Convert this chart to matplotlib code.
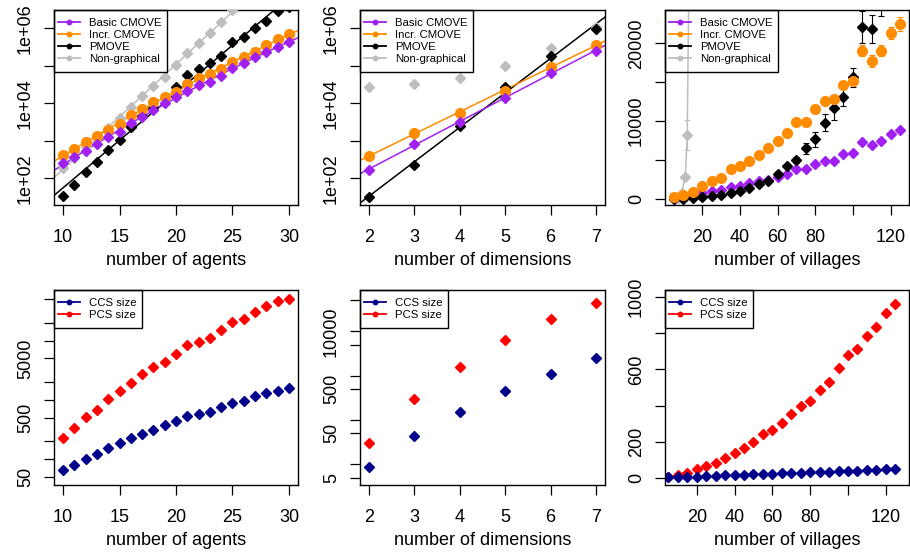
import matplotlib.pyplot as plt
import numpy as np

from matplotlib.lines import Line2D
from matplotlib.patches import Rectangle
from matplotlib.ticker import NullLocator

plt.rcParams['font.family'] = ['Liberation Sans', 'DejaVu Sans']

# Runtime vs number of agents (log scale)
agents = list(range(10, 31))
agents_basic = [250, 360, 550, 810, 1230, 1740, 3020, 4370, 6610, 10000, 15100,
                21900, 30900, 38000, 53700, 85100, 117000, 170000, 229000, 324000, 437000]
agents_incr = [420, 600, 910, 1350, 1950, 2820, 4900, 6920, 11000, 15100, 20400,
               33100, 46800, 61700, 81300, 126000, 170000, 229000, 355000, 513000, 708000]
agents_pmove = [34, 66, 145, 270, 575, 1050, 2340, 4570, 7410, 15100, 26900, 57500,
                83200, 117000, 182000, 437000, 603000, 1000000, 1580000, 2950000, 3720000]
agents_ng_x = list(range(10, 26))
agents_ng = [186, 340, 690, 1200, 2240, 4170, 8130, 15800, 28800, 51300, 102000,
             214000, 398000, 741000, 1510000, 3090000]

# Runtime vs number of dimensions (log scale)
dims = [2, 3, 4, 5, 6, 7]
dims_basic = [166, 832, 3240, 14100, 63100, 251000]
dims_incr = [398, 1660, 5370, 21900, 95500, 355000]
dims_pmove = [31, 229, 2510, 27500, 182000, 933000]
dims_ng = [26900, 32400, 46800, 100000, 302000, 1100000]

# Runtime vs number of villages (linear scale)
villages = list(range(5, 126, 5))
vil_basic = [50, 200, 500, 730, 1030, 1160, 1500, 1710, 2010, 2310, 2440, 2780, 3210,
             3810, 3810, 4500, 4880, 4930, 5740, 5950, 7370, 6940, 7450, 8310, 8870]
vil_incr = [200, 500, 860, 1710, 2310, 2740, 3810, 4280, 4880, 5650, 6510, 7450, 8440,
            9940, 9940, 11560, 12630, 12810, 14650, 15160, 19060, 17770, 19060, 21290, 22490]
vil_incr_err = [0, 0, 0, 50, 50, 50, 100, 100, 100, 150, 150, 200, 200, 250, 250, 300,
                350, 350, 400, 500, 750, 750, 750, 750, 860]
vil_pmove_x = list(range(5, 116, 5))
vil_pmove = [20, 50, 170, 260, 390, 510, 810, 1070, 1370, 1880, 2360, 3210, 4240, 5010,
             6510, 7670, 9810, 11650, 13150, 15630, 22100, 21780, 26500]
vil_pmove_err = [0, 0, 0, 0, 0, 50, 50, 100, 100, 150, 150, 200, 300, 400, 700, 950,
                 1100, 1500, 1200, 1200, 2100, 1800, 3000]
vil_ng_x = [5, 7, 9, 11, 12, 13]
vil_ng = [20, 150, 730, 2870, 8220, 30000]
vil_ng_err = [0, 0, 50, 300, 1900, 5000]

# Coalition-set sizes
agents_ccs = [65, 79, 100, 121, 155, 183, 222, 267, 307, 373, 442, 530, 566, 628, 752,
              891, 951, 1140, 1280, 1400, 1560]
agents_pcs = [228, 337, 517, 669, 1040, 1400, 1940, 2680, 3520, 4280, 5920, 8290, 9570,
              10900, 15100, 20300, 23100, 30000, 38400, 46600, 51000]
dims_ccs = [8.6, 44, 152, 453, 1100, 2480]
dims_pcs = [30, 299, 1550, 6410, 18800, 44600]
vil_ccs = [3, 3, 5, 7, 9, 11, 13, 15, 17, 19, 21, 23, 25, 27, 28, 30, 31, 33, 35, 37,
           39, 42, 44, 46, 50]
vil_pcs = [5, 15, 28, 48, 65, 83, 107, 135, 166, 200, 242, 264, 305, 351, 399, 427,
           486, 532, 606, 680, 714, 787, 834, 911, 961]

method_names = ['Basic CMOVE', 'Incr. CMOVE', 'PMOVE', 'Non-graphical']
size_names = ['CCS size', 'PCS size']

PURPLE = '#A020F0'
ORANGE = '#FF8C00'
GREY = '#BEBEBE'
NAVY = '#00008B'
RED = '#FF0000'

W, H = 910, 553
MS_D = 5.2
MS_O = 7.0


def make_axes(fig, x0, x1, y0, y1):
    ax = fig.add_axes([x0 / W, 1 - y1 / H, (x1 - x0) / W, (y1 - y0) / H])
    ax.px_size = (x1 - x0, y1 - y0)
    return ax


def style_axis(ax, xlabel, yticks, ylabels, xticks, xlabels=None):
    ax.set_xticks(xticks)
    if xlabels is not None:
        ax.set_xticklabels(xlabels)
    ax.set_yticks(yticks)
    ax.set_yticklabels(ylabels)
    ax.yaxis.set_minor_locator(NullLocator())
    ax.xaxis.set_minor_locator(NullLocator())
    for s in ax.spines.values():
        s.set_linewidth(1.0)
    ax.tick_params(direction='out', length=7.5, width=0.9, labelsize=13, colors='black')
    ax.tick_params(axis='x', pad=10)
    ax.tick_params(axis='y', pad=7, labelrotation=90)
    for lab in ax.get_yticklabels():
        lab.set_va('center')
    ax.set_xlabel(xlabel, fontsize=13, labelpad=4)


legends = []


def add_legend(ax, names, colors):
    # R-style legend: frame drawn by hand later, more room above/below than beside
    handles = [Line2D([], [], color=c, lw=1.3, marker='o', ms=3.2) for c in colors]
    w, h = ax.px_size
    leg = ax.legend(handles, names, loc='upper left', fontsize=8.2, frameon=False,
                    bbox_to_anchor=(4 / w, 1 - 8 / h), borderaxespad=0, borderpad=0,
                    labelspacing=0.17, handlelength=1.9, handletextpad=0.8)
    legends.append((ax, leg))


def draw_legend_frames(fig):
    fig.canvas.draw()
    renderer = fig.canvas.get_renderer()
    for ax, leg in legends:
        bb = leg.get_window_extent(renderer)
        inv = ax.transAxes.inverted()
        x1, y0 = inv.transform((bb.x1 + 6, bb.y0 - 8))
        ax.add_patch(Rectangle((0, y0), x1, 1 - y0, transform=ax.transAxes, fill=False,
                               edgecolor='black', lw=1.0, clip_on=False, zorder=5))


def fit_line(ax, x, y, deg, color, xlim):
    coef = np.polyfit(x, np.log10(y), deg)
    xs = np.linspace(xlim[0], xlim[1], 200)
    ax.plot(xs, 10 ** np.polyval(coef, xs), color=color, lw=1.1, zorder=2)


fig = plt.figure(figsize=(9.1, 5.53), dpi=100)

cols = [(54, 298), (360, 605), (665, 909)]
top = (10, 205)
bottom = (290, 485)

log_ticks = [1e2, 1e3, 1e4, 1e5, 1e6]
log_labels = ['1e+02', '', '1e+04', '', '1e+06']

# Panel 1: agents
ax = make_axes(fig, *cols[0], *top)
xlim = (9.2, 30.8)
ax.set_yscale('log')
fit_line(ax, agents_ng_x, agents_ng, 1, GREY, xlim)
fit_line(ax, agents, agents_pmove, 1, 'black', xlim)
fit_line(ax, agents, agents_incr, 2, ORANGE, xlim)
fit_line(ax, agents, agents_basic, 2, PURPLE, xlim)
ax.plot(agents_ng_x, agents_ng, 'D', color=GREY, ms=MS_D, zorder=3)
ax.plot(agents, agents_pmove, 'D', color='black', ms=MS_D, zorder=3)
ax.plot(agents, agents_incr, 'o', color=ORANGE, ms=MS_O, zorder=3)
ax.plot(agents, agents_basic, 'D', color=PURPLE, ms=MS_D, zorder=3)
ax.set_xlim(*xlim)
ax.set_ylim(10 ** 1.288, 10 ** 6.488)
style_axis(ax, 'number of agents', log_ticks, log_labels, [10, 15, 20, 25, 30])
add_legend(ax, method_names, [PURPLE, ORANGE, 'black', GREY])

# Panel 2: dimensions
ax = make_axes(fig, *cols[1], *top)
xlim = (1.8, 7.2)
ax.set_yscale('log')
fit_line(ax, dims, dims_pmove, 1, 'black', xlim)
fit_line(ax, dims, dims_incr, 1, ORANGE, xlim)
fit_line(ax, dims, dims_basic, 1, PURPLE, xlim)
ax.plot(dims, dims_ng, 'D', color=GREY, ms=MS_D, zorder=3)
ax.plot(dims, dims_pmove, 'D', color='black', ms=MS_D, zorder=3)
ax.plot(dims, dims_incr, 'o', color=ORANGE, ms=MS_O, zorder=3)
ax.plot(dims, dims_basic, 'D', color=PURPLE, ms=MS_D, zorder=3)
ax.set_xlim(*xlim)
ax.set_ylim(10 ** 1.288, 10 ** 6.488)
style_axis(ax, 'number of dimensions', log_ticks, log_labels, dims)
add_legend(ax, method_names, [PURPLE, ORANGE, 'black', GREY])

# Panel 3: villages
ax = make_axes(fig, *cols[2], *top)
ax.errorbar(vil_ng_x, vil_ng, yerr=vil_ng_err, fmt='-D', color=GREY, ms=4.8, lw=1.1,
            elinewidth=0.8, capsize=2.5, capthick=0.8, zorder=2)
ax.errorbar(vil_pmove_x, vil_pmove, yerr=vil_pmove_err, fmt='D', color='black', ms=MS_D,
            elinewidth=0.8, capsize=2.5, capthick=0.8, zorder=3)
ax.errorbar(villages, vil_incr, yerr=vil_incr_err, fmt='o', color=ORANGE, ms=MS_O,
            elinewidth=0.8, capsize=2.5, capthick=0.8, zorder=3)
ax.plot(villages, vil_basic, 'D', color=PURPLE, ms=MS_D, zorder=3)
ax.set_xlim(0.2, 129.8)
ax.set_ylim(-770, 24280)
style_axis(ax, 'number of villages', [0, 5000, 10000, 15000, 20000],
           ['0', '', '10000', '', '20000'], [20, 40, 60, 80, 100, 120],
           ['20', '40', '60', '80', '', '120'])
add_legend(ax, method_names, [PURPLE, ORANGE, 'black', GREY])

# Panel 4: set sizes vs agents
ax = make_axes(fig, *cols[0], *bottom)
ax.set_yscale('log')
ax.plot(agents, agents_pcs, 'D', color=RED, ms=MS_D)
ax.plot(agents, agents_ccs, 'D', color=NAVY, ms=MS_D)
ax.set_xlim(9.2, 30.8)
ax.set_ylim(10 ** 1.559, 10 ** 4.854)
style_axis(ax, 'number of agents',
           [50, 100, 200, 500, 1000, 2000, 5000, 10000, 20000, 50000],
           ['50', '', '', '500', '', '', '5000', '', '', ''], [10, 15, 20, 25, 30])
add_legend(ax, size_names, [NAVY, RED])

# Panel 5: set sizes vs dimensions
ax = make_axes(fig, *cols[1], *bottom)
ax.set_yscale('log')
ax.plot(dims, dims_pcs, 'D', color=RED, ms=MS_D)
ax.plot(dims, dims_ccs, 'D', color=NAVY, ms=MS_D)
ax.set_xlim(1.8, 7.2)
ax.set_ylim(10 ** 0.534, 10 ** 4.936)
style_axis(ax, 'number of dimensions',
           [5, 10, 50, 100, 500, 1000, 5000, 10000, 50000],
           ['5', '', '50', '', '500', '', '', '10000', ''], dims)
add_legend(ax, size_names, [NAVY, RED])

# Panel 6: set sizes vs villages
ax = make_axes(fig, *cols[2], *bottom)
ax.plot(villages, vil_pcs, 'D', color=RED, ms=MS_D)
ax.plot(villages, vil_ccs, 'D', color=NAVY, ms=MS_D)
ax.set_xlim(3.2, 132.3)
ax.set_ylim(-40, 1040)
style_axis(ax, 'number of villages', [0, 200, 400, 600, 800, 1000],
           ['0', '200', '', '600', '', '1000'], [20, 40, 60, 80, 100, 120],
           ['20', '40', '60', '80', '', '120'])
add_legend(ax, size_names, [NAVY, RED])

draw_legend_frames(fig)
fig.savefig('out.png', dpi=100)
